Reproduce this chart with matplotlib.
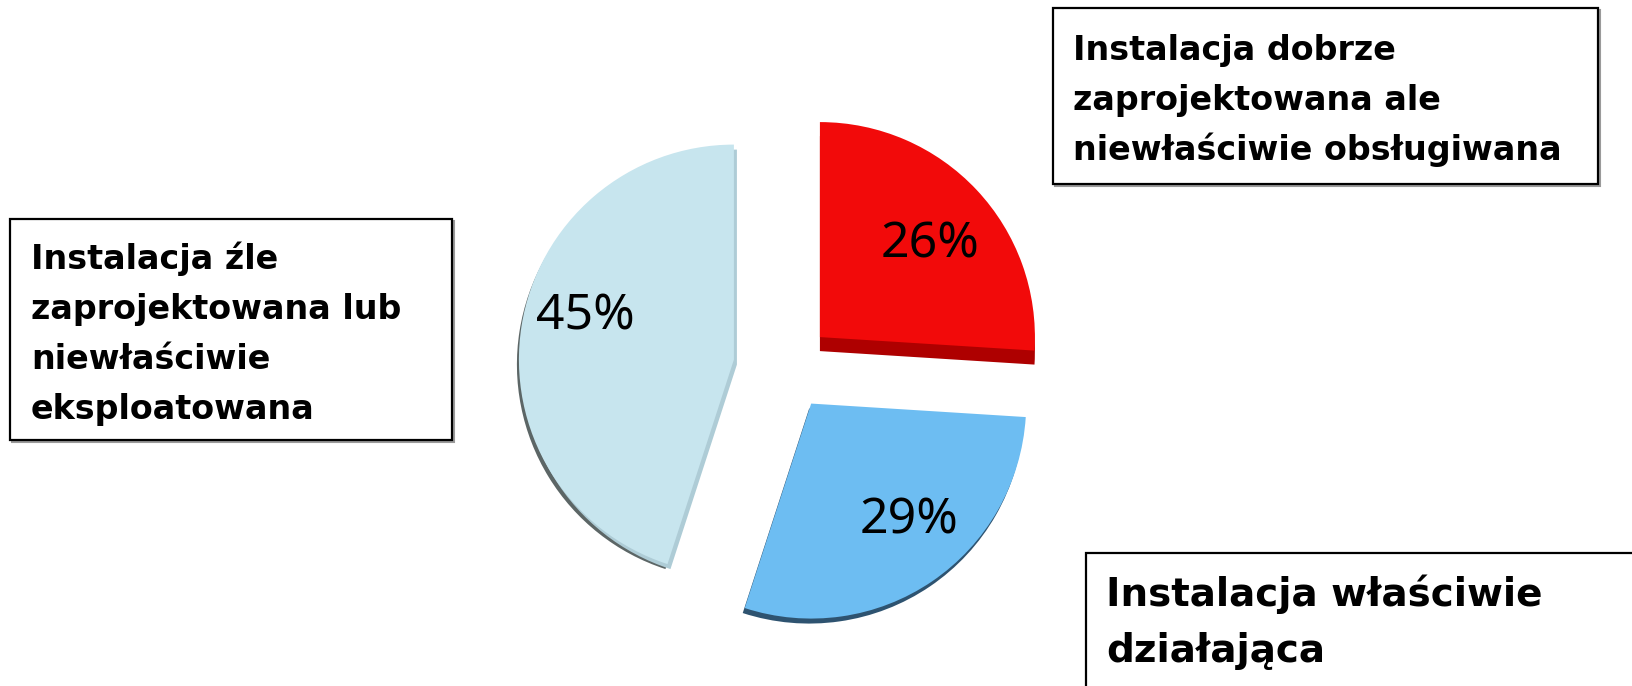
import matplotlib
matplotlib.use("Agg")
import matplotlib.pyplot as plt
import matplotlib.patches as mpatches
import matplotlib.transforms as mtransforms

W, H = 1632, 686

labels = ["Instalacja dobrze\nzaprojektowana ale\nniewłaściwie obsługiwana",
          "Instalacja właściwie\ndziałająca",
          "Instalacja źle\nzaprojektowana lub\nniewłaściwie\neksploatowana"]
shares = [26, 29, 45]
colors = ["#F20A0A", "#6DBDF2", "#C7E5EE"]
side_colors = ["#AE0000", "#2E5370", "#AECCD6"]
explode = [0.21, 0.20, 0.25]

fig = plt.figure(figsize=(W / 100, H / 100), dpi=100)
ax = fig.add_axes([0, 0, 1, 1])

R = 215.0           # pie radius in px
cx, cy = 787, 368   # pie centre, px from top-left

# 3d-ish side faces: the same pie drawn darker and shifted a few px
side_shift = [(0, -14), (-2, -5), (3, -5)]
sw, _ = ax.pie(shares, explode=explode, colors=side_colors, startangle=90,
               counterclock=False, wedgeprops=dict(linewidth=0))
for w, (dx, dy) in zip(sw, side_shift):
    w.set_transform(mtransforms.offset_copy(ax.transData, fig=fig, x=dx, y=dy, units="dots"))
    w.set_zorder(2)

# grey drop shadow under the big slice
big = sw[2]
shadow = mpatches.Wedge(big.center, big.r, big.theta1, big.theta2, fc="#5C6666", lw=0,
                        transform=mtransforms.offset_copy(ax.transData, fig=fig, x=-2, y=-5, units="dots"),
                        zorder=1)
ax.add_patch(shadow)

wedges, _, pcts = ax.pie(shares, explode=explode, colors=colors, startangle=90,
                         counterclock=False, autopct="%.0f%%", pctdistance=0.7,
                         textprops=dict(fontsize=36, family="Noto Sans", color="black"),
                         wedgeprops=dict(linewidth=0))
for w in wedges:
    w.set_zorder(3)

# small nudges of the percentage labels (px)
nudge = [(0, -10), (13, 8), (0, 20)]
for t, (dx, dy) in zip(pcts, nudge):
    x, y = t.get_position()
    t.set_position((x + dx / R, y + dy / R))
    t.set_zorder(4)

ax.set_xlim(-cx / R, (W - cx) / R)
ax.set_ylim(-(H - cy) / R, cy / R)
ax.set_aspect("auto")
ax.axis("off")

# overlay in pixel coordinates for the label boxes
ov = fig.add_axes([0, 0, 1, 1], facecolor="none")
ov.set_xlim(0, W)
ov.set_ylim(H, 0)
ov.axis("off")


def label_box(x0, y0, x1, y1, text, tx, base, step, size):
    ov.add_patch(mpatches.Rectangle((x0 + 2, y0 + 2), x1 - x0, y1 - y0, fill=False,
                                    ec="#9a9a9a", lw=1.5, clip_on=False))
    ov.add_patch(mpatches.Rectangle((x0, y0), x1 - x0, y1 - y0, fc="white",
                                    ec="black", lw=1.6, clip_on=False))
    for i, line in enumerate(text.split("\n")):
        ov.text(tx, base + i * step, line, fontsize=size, fontweight="bold",
                family="DejaVu Sans", va="baseline", ha="left")


label_box(1053, 8, 1598, 184, labels[0], 1073, 60, 50, 24)
label_box(1086, 553, 1645, 700, labels[1], 1106, 606, 56, 28)
label_box(10, 219, 452, 440, labels[2], 31, 269, 50, 24)

fig.savefig("out.png", dpi=100)
